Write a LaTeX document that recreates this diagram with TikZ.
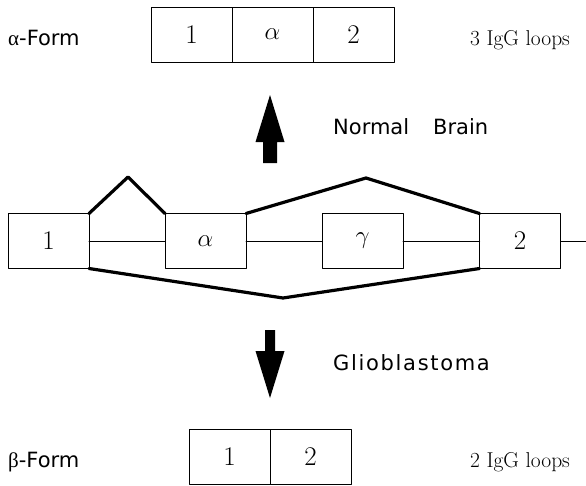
\documentclass[tikz,border=0pt]{standalone}
\usepackage{fontspec}
\usetikzlibrary{positioning}
\newfontfamily\labelfont{DejaVu Sans}
\newfontfamily\spacedfont[LetterSpace=8]{DejaVu Sans}
\newfontfamily\greekfont{Liberation Serif}
\begin{document}
\begin{tikzpicture}[x=1pt,y=-1pt,line join=round,line cap=round,
	exon/.style={draw,line width=1pt,minimum width=81pt,minimum height=55pt,inner sep=0pt,outer sep=0pt,font=\fontsize{27}{27}\selectfont},
	lab/.style={anchor=west,inner sep=0pt,font=\labelfont\fontsize{21}{21}\selectfont},
	loops/.style={anchor=west,inner sep=0pt,font=\fontsize{21.5}{21.5}\selectfont},
	intron/.style={line width=1pt},
	splice/.style={line width=3.2pt}]
	\useasboundingbox (0,0) rectangle (586,485);
	% alpha form
	\node[exon] (a1) at (191.5,34.5) {1};
	\node[exon,right=0pt of a1] (aa) {$\alpha$};
	\node[exon,right=0pt of aa] (a2) {2};
	\node[lab] (aform) at (8,38) {{\greekfont α}-Form};
	\node[loops] (aloops) at (470,40) {3 IgG loops};
	% gene
	\node[exon] (e1) at (48.5,241) {1};
	\node[exon,font=\fontsize{24}{24}\selectfont] (ea) at (205.5,241) {$\alpha$};
	\node[exon,font=\fontsize{24}{24}\selectfont] (eg) at (362.5,241) {$\gamma$};
	\node[exon] (e2) at (520,241) {2};
	\coordinate (tail) at (586,241);
	\draw[intron] (e1)--(ea) (ea)--(eg) (eg)--(e2) (e2)--(tail);
	\coordinate (p1) at (128,177);
	\coordinate (p2) at (366,178);
	\coordinate (p3) at (283,298);
	\draw[splice] (e1.north east)--(p1)--(ea.north west);
	\draw[splice] (ea.north east)--(p2)--(e2.north west);
	\draw[splice] (e1.south east)--(p3)--(e2.south west);
	% arrows
	\fill[shift={(270,0)}] (0,95)--(14.5,142)--(7,142)--(7,163)--(-7,163)--(-7,142)--(-14.5,142)--cycle;
	\fill[shift={(270,0)}] (0,398)--(14.5,351)--(5,351)--(5,330)--(-5,330)--(-5,351)--(-14.5,351)--cycle;
	\node[lab] (normal) at (333,127) {Normal\hspace{24pt}Brain};
	\node[lab,font=\spacedfont\fontsize{21}{21}\selectfont] (glio) at (333,363) {Glioblastoma};
	% beta form
	\node[exon] (b1) at (229.5,456.5) {1};
	\node[exon,right=0pt of b1] (b2) {2};
	\node[lab] (bform) at (8,462) {{\greekfont β}-Form};
	\node[loops] (bloops) at (470,462) {2 IgG loops};
\end{tikzpicture}
\end{document}
